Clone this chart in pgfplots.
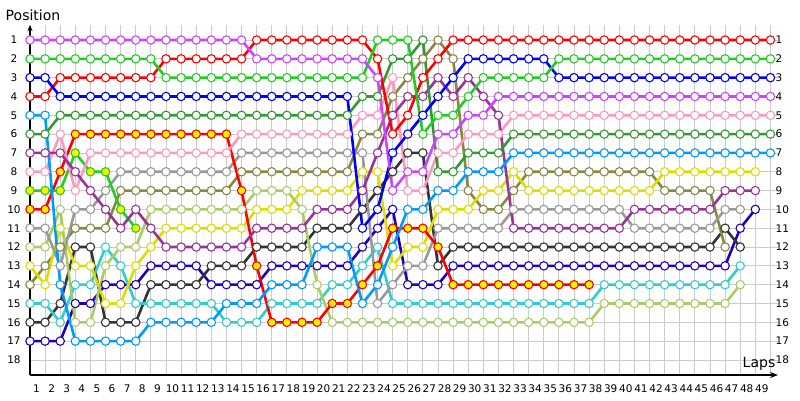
\documentclass[border=0pt]{standalone}
\usepackage{fontspec}
\setmainfont{DejaVu Sans}
\usepackage{pgfplots}
\pgfplotsset{compat=1.18}
\usetikzlibrary{arrows.meta}
\definecolor{cM}{HTML}{CC44FF}
\definecolor{cG}{HTML}{22CC22}
\definecolor{cB}{HTML}{0000FF}
\definecolor{cR}{HTML}{FF0000}
\definecolor{cLB}{HTML}{0099FF}
\definecolor{cDG}{HTML}{339933}
\definecolor{cP}{HTML}{993399}
\definecolor{cPK}{HTML}{FF99BB}
\definecolor{cGR}{HTML}{999999}
\definecolor{cLO}{HTML}{AACC66}
\definecolor{cY}{HTML}{DDDD00}
\definecolor{cO}{HTML}{888844}
\definecolor{cC}{HTML}{33CCCC}
\definecolor{cDK}{HTML}{333333}
\definecolor{cDB}{HTML}{2200BB}
\definecolor{gridc}{HTML}{CCCCCC}
\newcommand\tf{\fontsize{10.5}{12}\selectfont}
\pgfplotsset{
 drv/.style={color=#1, line width=2.6pt, mark=*, mark size=4.2pt, mark options={fill=white, draw=#1, line width=1.1pt}},
 drvy/.style={color=#1, line width=2.6pt, mark=*, mark size=4.2pt, mark options={fill=yellow, draw=#1, line width=1.1pt}}
}
\begin{document}
\begin{tikzpicture}
\path (0pt,0pt) rectangle (800pt,400pt);
\begin{axis}[
  at={(30pt,25pt)}, anchor=south west, scale only axis,
  width=748pt, height=350pt,
  xmin=0, xmax=49.5, ymin=0.203, ymax=18.8, y dir=reverse,
  clip=false,
  axis line style={draw=none},
  xtick={0,...,49}, ytick={1,...,18},
  grid=major, grid style={color=gridc, line width=0.8pt},
  major tick length=0pt,
  xticklabels={1,2,3,4,5,6,7,8,9,10,11,12,13,14,15,16,17,18,19,20,21,22,23,24,25,26,27,28,29,30,31,32,33,34,35,36,37,38,39,40,41,42,43,44,45,46,47,48,49,{}},
  xticklabel style={anchor=center, xshift=6.5pt, yshift=-14pt, font=\tf},
  yticklabel style={anchor=center, xshift=-16pt, font=\tf},
  /pgf/number format/assume math mode=true,
]
\addplot[drv=cDB] coordinates {(0,17)(1,17)(2,17)(3,15)(4,15)(5,14)(6,14)(7,14)(8,13)(9,13)(10,13)(11,13)(12,14)(13,14)(14,14)(15,14)(16,13)(17,13)(18,13)(19,13)(20,13)(21,13)(22,12)(23,11)(24,10)(25,14)(26,14)(27,14)(28,13)(29,13)(30,13)(31,13)(32,13)(33,13)(34,13)(35,13)(36,13)(37,13)(38,13)(39,13)(40,13)(41,13)(42,13)(43,13)(44,13)(45,13)(46,13)(47,11)(48,10)};
\addplot[drv=cDK] coordinates {(0,16)(1,16)(2,15)(3,12)(4,12)(5,16)(6,16)(7,16)(8,14)(9,14)(10,14)(11,14)(12,13)(13,13)(14,13)(15,12)(16,12)(17,12)(18,12)(19,11)(20,11)(21,11)(22,10)(23,9)(24,8)(25,7)(26,7)(27,13)(28,12)(29,12)(30,12)(31,12)(32,12)(33,12)(34,12)(35,12)(36,12)(37,12)(38,12)(39,12)(40,12)(41,12)(42,12)(43,12)(44,12)(45,12)(46,11)(47,12)};
\addplot[drv=cC] coordinates {(0,15)(1,15)(2,16)(3,14)(4,14)(5,12)(6,13)(7,15)(8,15)(9,15)(10,15)(11,15)(12,15)(13,16)(14,16)(15,16)(16,15)(17,15)(18,15)(19,15)(20,14)(21,14)(22,13)(23,12)(24,15)(25,15)(26,15)(27,15)(28,15)(29,15)(30,15)(31,15)(32,15)(33,15)(34,15)(35,15)(36,15)(37,15)(38,14)(39,14)(40,14)(41,14)(42,14)(43,14)(44,14)(45,14)(46,14)(47,13)};
\addplot[drv=cO] coordinates {(0,14)(1,13)(2,12)(3,11)(4,11)(5,11)(6,9)(7,9)(8,9)(9,9)(10,9)(11,9)(12,9)(13,9)(14,8)(15,8)(16,8)(17,8)(18,8)(19,8)(20,8)(21,8)(22,6)(23,6)(24,4)(25,3)(26,2)(27,1)(28,2)(29,9)(30,10)(31,10)(32,9)(33,8)(34,8)(35,8)(36,8)(37,8)(38,8)(39,8)(40,8)(41,8)(42,9)(43,9)(44,9)(45,9)(46,12)};
\addplot[drv=cY] coordinates {(0,13)(1,14)(2,11)(3,13)(4,13)(5,15)(6,15)(7,13)(8,12)(9,11)(10,11)(11,11)(12,11)(13,11)(14,11)(15,10)(16,10)(17,10)(18,9)(19,9)(20,9)(21,9)(22,8)(23,8)(24,13)(25,12)(26,12)(27,10)(28,10)(29,10)(30,9)(31,9)(32,8)(33,9)(34,9)(35,9)(36,9)(37,9)(38,9)(39,9)(40,9)(41,9)(42,8)(43,8)(44,8)(45,8)(46,8)(47,8)(48,8)};
\addplot[drv=cLO] coordinates {(0,12)(1,12)(2,10)(3,16)(4,16)(5,13)(6,12)(7,12)(8,10)(9,10)(10,10)(11,10)(12,10)(13,10)(14,10)(15,9)(16,9)(17,9)(18,10)(19,14)(20,16)(21,16)(22,16)(23,16)(24,16)(25,16)(26,16)(27,16)(28,16)(29,16)(30,16)(31,16)(32,16)(33,16)(34,16)(35,16)(36,16)(37,16)(38,15)(39,15)(40,15)(41,15)(42,15)(43,15)(44,15)(45,15)(46,15)(47,14)};
\addplot[drv=cGR] coordinates {(0,11)(1,11)(2,13)(3,10)(4,10)(5,9)(6,8)(7,8)(8,8)(9,8)(10,8)(11,8)(12,8)(13,8)(14,7)(15,7)(16,7)(17,7)(18,7)(19,7)(20,7)(21,7)(22,7)(23,15)(24,14)(25,13)(26,13)(27,11)(28,11)(29,11)(30,11)(31,11)(32,10)(33,10)(34,10)(35,10)(36,10)(37,10)(38,10)(39,10)(40,11)(41,11)(42,11)(43,11)(44,11)(45,11)(46,10)(47,10)};
\addplot[drvy=cR] coordinates {(0,10)(1,10)(2,8)(3,6)(4,6)(5,6)(6,6)(7,6)(8,6)(9,6)(10,6)(11,6)(12,6)(13,6)(14,9)(15,13)(16,16)(17,16)(18,16)(19,16)(20,15)(21,15)(22,14)(23,13)(24,11)(25,11)(26,11)(27,12)(28,14)(29,14)(30,14)(31,14)(32,14)(33,14)(34,14)(35,14)(36,14)(37,14)};
\addplot[drvy=cG] coordinates {(0,9)(1,9)(2,9)(3,7)(4,8)(5,8)(6,10)(7,11)};
\addplot[drv=cPK] coordinates {(0,8)(1,8)(2,6)(3,9)(4,7)(5,7)(6,7)(7,7)(8,7)(9,7)(10,7)(11,7)(12,7)(13,7)(14,6)(15,6)(16,6)(17,6)(18,6)(19,6)(20,6)(21,6)(22,5)(23,5)(24,3)(25,9)(26,9)(27,7)(28,7)(29,6)(30,6)(31,6)(32,5)(33,5)(34,5)(35,5)(36,5)(37,5)(38,5)(39,5)(40,5)(41,5)(42,5)(43,5)(44,5)(45,5)(46,5)(47,5)(48,5)(49,5)};
\addplot[drv=cP] coordinates {(0,7)(1,7)(2,7)(3,8)(4,9)(5,10)(6,11)(7,10)(8,11)(9,12)(10,12)(11,12)(12,12)(13,12)(14,12)(15,11)(16,11)(17,11)(18,11)(19,10)(20,10)(21,10)(22,9)(23,7)(24,5)(25,4)(26,4)(27,3)(28,4)(29,3)(30,4)(31,5)(32,11)(33,11)(34,11)(35,11)(36,11)(37,11)(38,11)(39,11)(40,10)(41,10)(42,10)(43,10)(44,10)(45,10)(46,9)(47,9)(48,9)};
\addplot[drv=cDG] coordinates {(0,6)(1,6)(2,5)(3,5)(4,5)(5,5)(6,5)(7,5)(8,5)(9,5)(10,5)(11,5)(12,5)(13,5)(14,5)(15,5)(16,5)(17,5)(18,5)(19,5)(20,5)(21,5)(22,4)(23,4)(24,2)(25,2)(26,1)(27,8)(28,8)(29,7)(30,7)(31,7)(32,6)(33,6)(34,6)(35,6)(36,6)(37,6)(38,6)(39,6)(40,6)(41,6)(42,6)(43,6)(44,6)(45,6)(46,6)(47,6)(48,6)(49,6)};
\addplot[drv=cLB] coordinates {(0,5)(1,5)(2,14)(3,17)(4,17)(5,17)(6,17)(7,17)(8,16)(9,16)(10,16)(11,16)(12,16)(13,15)(14,15)(15,15)(16,14)(17,14)(18,14)(19,12)(20,12)(21,12)(22,15)(23,14)(24,12)(25,10)(26,10)(27,9)(28,9)(29,8)(30,8)(31,8)(32,7)(33,7)(34,7)(35,7)(36,7)(37,7)(38,7)(39,7)(40,7)(41,7)(42,7)(43,7)(44,7)(45,7)(46,7)(47,7)(48,7)(49,7)};
\addplot[drv=cR] coordinates {(0,4)(1,4)(2,3)(3,3)(4,3)(5,3)(6,3)(7,3)(8,3)(9,2)(10,2)(11,2)(12,2)(13,2)(14,2)(15,1)(16,1)(17,1)(18,1)(19,1)(20,1)(21,1)(22,1)(23,2)(24,6)(25,5)(26,3)(27,2)(28,1)(29,1)(30,1)(31,1)(32,1)(33,1)(34,1)(35,1)(36,1)(37,1)(38,1)(39,1)(40,1)(41,1)(42,1)(43,1)(44,1)(45,1)(46,1)(47,1)(48,1)(49,1)};
\addplot[drv=cB] coordinates {(0,3)(1,3)(2,4)(3,4)(4,4)(5,4)(6,4)(7,4)(8,4)(9,4)(10,4)(11,4)(12,4)(13,4)(14,4)(15,4)(16,4)(17,4)(18,4)(19,4)(20,4)(21,4)(22,11)(23,10)(24,7)(25,6)(26,5)(27,4)(28,3)(29,2)(30,2)(31,2)(32,2)(33,2)(34,2)(35,3)(36,3)(37,3)(38,3)(39,3)(40,3)(41,3)(42,3)(43,3)(44,3)(45,3)(46,3)(47,3)(48,3)(49,3)};
\addplot[drv=cG] coordinates {(0,2)(1,2)(2,2)(3,2)(4,2)(5,2)(6,2)(7,2)(8,2)(9,3)(10,3)(11,3)(12,3)(13,3)(14,3)(15,3)(16,3)(17,3)(18,3)(19,3)(20,3)(21,3)(22,3)(23,1)(24,1)(25,1)(26,6)(27,5)(28,5)(29,4)(30,3)(31,3)(32,3)(33,3)(34,3)(35,2)(36,2)(37,2)(38,2)(39,2)(40,2)(41,2)(42,2)(43,2)(44,2)(45,2)(46,2)(47,2)(48,2)(49,2)};
\addplot[drv=cM] coordinates {(0,1)(1,1)(2,1)(3,1)(4,1)(5,1)(6,1)(7,1)(8,1)(9,1)(10,1)(11,1)(12,1)(13,1)(14,1)(15,2)(16,2)(17,2)(18,2)(19,2)(20,2)(21,2)(22,2)(23,3)(24,9)(25,8)(26,8)(27,6)(28,6)(29,5)(30,5)(31,4)(32,4)(33,4)(34,4)(35,4)(36,4)(37,4)(38,4)(39,4)(40,4)(41,4)(42,4)(43,4)(44,4)(45,4)(46,4)(47,4)(48,4)(49,4)};
\draw[line width=1.5pt, -{Stealth[length=8pt,width=6pt]}] (axis cs:0,18.8) -- (axis cs:49.5,18.8);
\draw[line width=1.5pt, -{Stealth[length=6pt,width=5pt]}] (axis cs:0,18.8) -- (axis cs:0,0.203);
\pgfplotsinvokeforeach{1,...,18}{\node[anchor=west, inner sep=0pt, xshift=5pt, font=\tf] at (axis cs:49,#1) {#1};}
\end{axis}
\node[font=\fontsize{14}{16}\selectfont] at (33pt,385pt) {Position};
\node[font=\fontsize{14}{16}\selectfont] at (759pt,36pt) {Laps};
\end{tikzpicture}
\end{document}
